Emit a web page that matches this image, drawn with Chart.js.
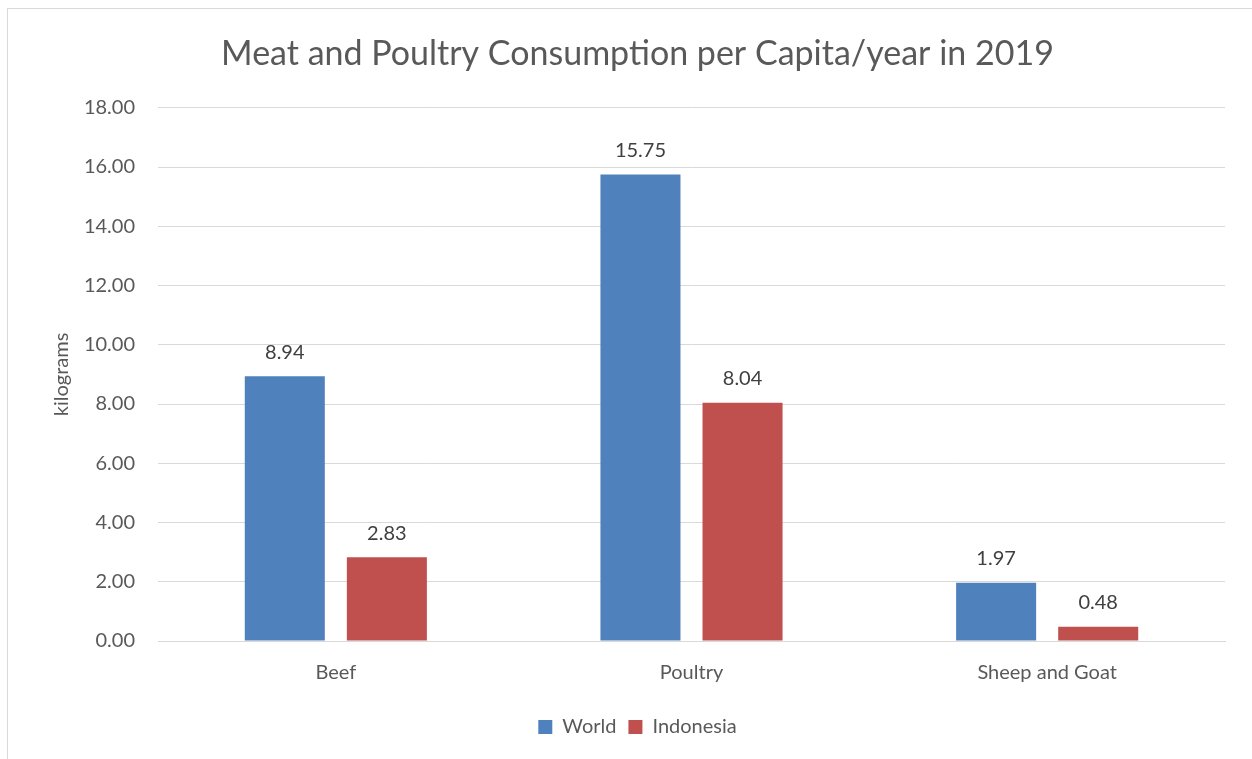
<!DOCTYPE html>
<html lang="en">
<head>
  <meta charset="UTF-8">
  <title>Meat and Poultry Consumption per Capita/year in 2019</title>
  <script src="https://cdn.jsdelivr.net/npm/chart.js"></script>
  <style>
    html, body { margin: 0; padding: 0; background: #fff; overflow: hidden; }
    #frame {
      position: absolute; left: 7px; top: 8px; width: 1300px; height: 800px;
      border-left: 1px solid #d9d9d9; border-top: 1px solid #d9d9d9;
    }
    #wrap { position: absolute; left: 0; top: 0; width: 1252px; height: 759px; }
  </style>
</head>
<body>
  <div id="frame"></div>
  <div id="wrap"><canvas id="meatChart" width="1252" height="759"></canvas></div>
  <script>
    // data
    const categories = ['Beef', 'Poultry', 'Sheep and Goat'];
    const worldValues = [8.94, 15.75, 1.97];
    const indonesiaValues = [2.83, 8.04, 0.48];
    const seriesNames = ['World', 'Indonesia'];

    const textColor = '#595959';
    const fontFamily = 'Lato, "Open Sans", sans-serif';

    // labels over the bars
    const valueLabels = {
      id: 'valueLabels',
      afterDatasetsDraw(chart) {
        const ctx = chart.ctx;
        ctx.save();
        ctx.font = '20px ' + fontFamily;
        ctx.fillStyle = '#404040';
        ctx.textAlign = 'center';
        ctx.textBaseline = 'bottom';
        chart.data.datasets.forEach((ds, i) => {
          chart.getDatasetMeta(i).data.forEach((bar, j) => {
            ctx.fillText(ds.data[j].toFixed(2), bar.x, bar.y - 14);
          });
        });
        ctx.restore();
      }
    };

    const ctx = document.getElementById('meatChart').getContext('2d');
    new Chart(ctx, {
      type: 'bar',
      data: {
        labels: categories,
        datasets: [
          { label: seriesNames[0], data: worldValues, backgroundColor: '#4f81bd' },
          { label: seriesNames[1], data: indonesiaValues, backgroundColor: '#c0504d' }
        ]
      },
      options: {
        responsive: false,
        animation: false,
        categoryPercentage: 0.574,
        barPercentage: 0.784,
        layout: { padding: { left: 50, right: 27, top: 26, bottom: 12 } },
        plugins: {
          title: {
            display: true,
            text: 'Meat and Poultry Consumption per Capita/year in 2019',
            color: textColor,
            font: { family: fontFamily, size: 34, weight: 'normal' },
            padding: { top: 8, bottom: 33 }
          },
          legend: {
            position: 'bottom',
            labels: {
              color: textColor,
              font: { family: fontFamily, size: 20 },
              boxWidth: 14,
              boxHeight: 14,
              padding: 12
            }
          },
          tooltip: { enabled: false }
        },
        scales: {
          x: {
            grid: { display: false, drawTicks: false },
            border: { color: '#d9d9d9' },
            ticks: { color: textColor, font: { family: fontFamily, size: 20 }, padding: 20 }
          },
          y: {
            min: 0,
            max: 18,
            afterFit(scale) { scale.width = 108; },
            grid: { color: '#d9d9d9', drawTicks: false },
            border: { display: false },
            ticks: {
              stepSize: 2,
              color: textColor,
              font: { family: fontFamily, size: 20 },
              padding: 23,
              callback: v => v.toFixed(2)
            },
            title: {
              display: true,
              text: 'kilograms',
              color: textColor,
              font: { family: fontFamily, size: 20 },
              padding: 0
            }
          }
        }
      },
      plugins: [valueLabels]
    });
  </script>
</body>
</html>
